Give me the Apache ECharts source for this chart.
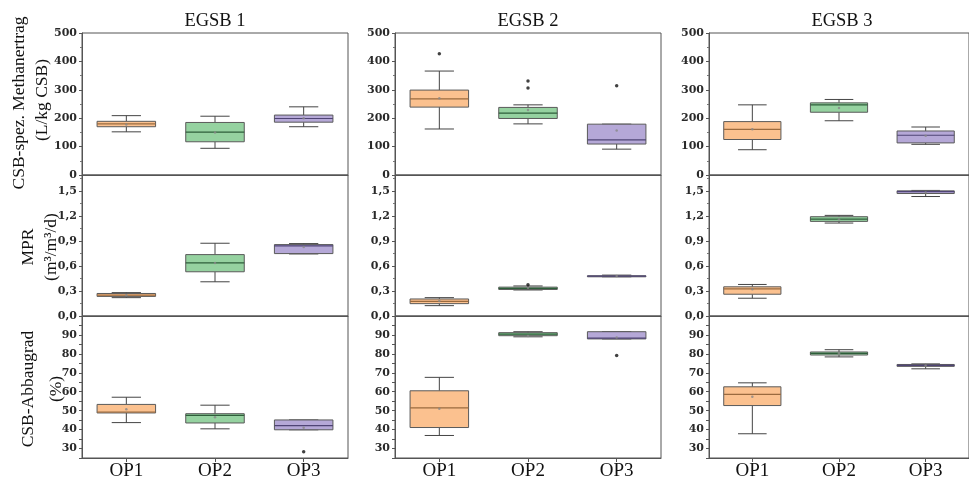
<!DOCTYPE html>
<html>
<head>
<meta charset="utf-8">
<script src="https://cdn.jsdelivr.net/npm/echarts@6.0.0/dist/echarts.min.js"></script>
<style>
  html, body { margin: 0; padding: 0; background: #fff; }
  #main { width: 969px; height: 481px; }
</style>
</head>
<body>
<div id="main"></div>
<script>
const categories = ['OP1', 'OP2', 'OP3'];
const reactors = ['EGSB 1', 'EGSB 2', 'EGSB 3'];

// box stats per OP: [lower whisker, Q1, median, Q3, upper whisker]
const yieldEGSB1 = [[152, 170, 180, 189, 209], [94, 117, 151, 185, 207], [170, 186, 199, 211, 240]];
const yieldEGSB2 = [[162, 239, 268, 299, 366], [180, 199, 218, 238, 247], [91, 109, 124, 179, 179]];
const yieldEGSB3 = [[89, 125, 161, 188, 247], [191, 221, 247, 254, 266], [108, 113, 140, 155, 169]];
const yieldMeans = [[178, 150, 200], [270, 229, 157], [161, 236, 138]];
const yieldOutliers = [[], [[0, 427], [1, 331], [1, 306], [2, 314]], []];

const mprEGSB1 = [[0.22, 0.235, 0.25, 0.27, 0.28], [0.41, 0.53, 0.636, 0.736, 0.872], [0.744, 0.748, 0.84, 0.856, 0.868]];
const mprEGSB2 = [[0.124, 0.148, 0.176, 0.204, 0.22], [0.312, 0.318, 0.332, 0.346, 0.36], [0.47, 0.474, 0.478, 0.482, 0.49]];
const mprEGSB3 = [[0.213, 0.261, 0.326, 0.35, 0.378], [1.114, 1.134, 1.162, 1.19, 1.206], [1.432, 1.468, 1.49, 1.5, 1.505]];
const mprMeans = [[0.25, 0.636, 0.828], [0.18, 0.34, 0.48], [0.32, 1.16, 1.48]];
const mprOutliers = [[], [[1, 0.376]], []];

const codEGSB1 = [[43.7, 48.8, 49.3, 53.3, 57.1], [40.4, 43.5, 47.5, 48.4, 52.9], [39.9, 39.9, 42.1, 45.1, 45.1]];
const codEGSB2 = [[36.9, 41.1, 51.5, 60.5, 67.6], [89, 89.6, 90.4, 91.2, 91.7], [87.9, 87.9, 88.3, 91.7, 91.7]];
const codEGSB3 = [[37.8, 52.7, 58.6, 62.6, 64.7], [78.4, 79.4, 80.3, 81, 82.2], [72.1, 73.4, 73.9, 74.4, 74.7]];
const codMeans = [[50.8, 46.5, 41], [51, 89.5, 88.6], [57.4, 80.3, 73.9]];
const codOutliers = [[[2, 28.3]], [[2, 79.1]], []];

const rowBoxes = [[yieldEGSB1, yieldEGSB2, yieldEGSB3], [mprEGSB1, mprEGSB2, mprEGSB3], [codEGSB1, codEGSB2, codEGSB3]];
const rowMeans = [yieldMeans, mprMeans, codMeans];
const rowOutliers = [yieldOutliers, mprOutliers, codOutliers];

const fills = ['#FBC18F', '#95D2A0', '#B5A8D7'];
const medianColors = ['#9a6a3e', '#2e5e3a', '#4f4475'];
const frame = '#555';
const serif = 'Liberation Serif';

const colLeft = [82, 395, 709];
const rowTop = [33, 175, 316];
const rowHeight = [142, 141, 142];

function renderBox(params, api) {
  const x = api.value(0);
  const lo = api.coord([x, api.value(1)]);
  const q1 = api.coord([x, api.value(2)]);
  const md = api.coord([x, api.value(3)]);
  const q3 = api.coord([x, api.value(4)]);
  const hi = api.coord([x, api.value(5)]);
  const band = api.size([1, 0])[0];
  const hw = band * 0.33, cw = band * 0.165;
  const cx = lo[0];
  const ln = { stroke: '#444', lineWidth: 1 };
  return {
    type: 'group',
    children: [
      { type: 'line', shape: { x1: cx, y1: hi[1], x2: cx, y2: q3[1] }, style: ln },
      { type: 'line', shape: { x1: cx, y1: q1[1], x2: cx, y2: lo[1] }, style: ln },
      { type: 'line', shape: { x1: cx - cw, y1: hi[1], x2: cx + cw, y2: hi[1] }, style: ln },
      { type: 'line', shape: { x1: cx - cw, y1: lo[1], x2: cx + cw, y2: lo[1] }, style: ln },
      { type: 'rect', shape: { x: cx - hw, y: q3[1], width: hw * 2, height: Math.max(q1[1] - q3[1], 1) },
        style: { fill: fills[x], stroke: '#5a5a5a', lineWidth: 1 } },
      { type: 'line', shape: { x1: cx - hw, y1: md[1], x2: cx + hw, y2: md[1] },
        style: { stroke: medianColors[x], lineWidth: 1.2 } }
    ]
  };
}

const grids = [], xAxes = [], yAxes = [], series = [];
const rowAxis = [
  { min: 0, max: 500, interval: 100, fmt: v => String(v), minor: true },
  { min: 0, max: 1.69, interval: 0.3, fmt: v => v.toFixed(1).replace('.', ','), minor: true },
  { min: 25, max: 100, interval: 5, fmt: v => (v % 10 === 0 && v >= 30 && v <= 90) ? String(v) : '', minor: false }
];

for (let r = 0; r < 3; r++) {
  for (let c = 0; c < 3; c++) {
    const i = r * 3 + c;
    grids.push({ left: colLeft[c], top: rowTop[r], width: 266, height: rowHeight[r],
      show: true, borderColor: frame, borderWidth: 1, backgroundColor: 'transparent' });
    const bottomRow = r === 2;
    xAxes.push({
      type: 'category', gridIndex: i, data: categories,
      axisLine: { lineStyle: { color: frame } },
      axisTick: { show: bottomRow, alignWithLabel: true, length: 4, lineStyle: { color: frame } },
      axisLabel: { show: bottomRow, fontFamily: serif, fontSize: 19, color: '#111', margin: 4 },
      splitLine: { show: false }
    });
    const ra = rowAxis[r];
    yAxes.push({
      type: 'value', gridIndex: i, min: ra.min, max: ra.max, interval: ra.interval,
      axisLine: { show: true, lineStyle: { color: frame } },
      axisTick: { show: true, length: 3, lineStyle: { color: frame } },
      minorTick: { show: ra.minor, splitNumber: 2, length: 2, lineStyle: { color: '#777' } },
      splitLine: { show: false },
      axisLabel: { formatter: ra.fmt, showMaxLabel: r !== 1, fontFamily: 'DejaVu Serif', fontWeight: 'bold',
        fontSize: 11, color: '#2a2a2a', margin: 5 }
    });
    series.push({
      type: 'custom', xAxisIndex: i, yAxisIndex: i, renderItem: renderBox,
      encode: { x: 0, y: [1, 2, 3, 4, 5] },
      data: rowBoxes[r][c].map((b, k) => [k, ...b])
    });
    series.push({
      type: 'scatter', xAxisIndex: i, yAxisIndex: i, symbolSize: 2.5, z: 3,
      itemStyle: { color: '#888' },
      data: rowMeans[r][c].map((m, k) => [k, m])
    });
    if (rowOutliers[r][c].length) {
      series.push({
        type: 'scatter', xAxisIndex: i, yAxisIndex: i, symbolSize: 3.5, z: 3,
        itemStyle: { color: '#111' },
        data: rowOutliers[r][c]
      });
    }
  }
}

const yTitles = [
  ['CSB-spez. Methanertrag', 19, 103], ['(L/kg CSB)', 42, 100],
  ['MPR', 28, 247], ['(m³/m³/d)', 51, 247],
  ['CSB-Abbaugrad', 28, 389], ['(%)', 56, 389]
];

const chart = echarts.init(document.getElementById('main'));
chart.setOption({
  animation: false,
  backgroundColor: '#fff',
  title: reactors.map((t, c) => ({
    text: t, left: colLeft[c] + 133, top: 12, textAlign: 'center', padding: 0,
    textStyle: { fontFamily: serif, fontSize: 18.5, fontWeight: 'normal', color: '#111' }
  })),
  graphic: yTitles.map(([t, x, y]) => ({
    type: 'text', x: x, y: y, rotation: Math.PI / 2,
    style: { text: t, fontFamily: serif, fontSize: 17.5, fill: '#111', align: 'center', verticalAlign: 'middle' }
  })),
  grid: grids,
  xAxis: xAxes,
  yAxis: yAxes,
  series: series
});
</script>
</body>
</html>
